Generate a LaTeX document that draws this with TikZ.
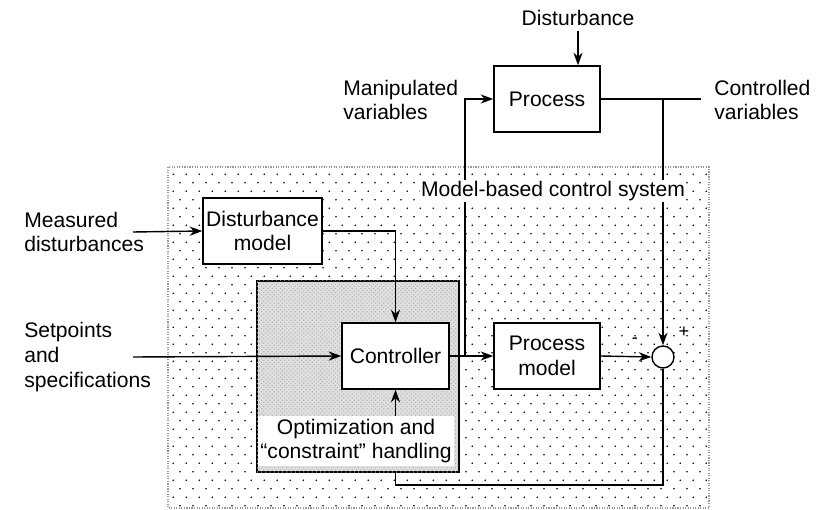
\documentclass[tikz,border=0pt]{standalone}
\usepackage{fontspec}
\setmainfont{Liberation Sans}
\usepackage{tikz}
\usetikzlibrary{arrows.meta,patterns,positioning}

% sparse staggered dots for the control system area
\pgfdeclarepatternformonly{sparse dots}{\pgfpointorigin}{\pgfqpoint{9pt}{12.4pt}}{\pgfqpoint{9pt}{12.4pt}}{%
  \pgfpathcircle{\pgfqpoint{2.25pt}{3.1pt}}{0.65pt}%
  \pgfpathcircle{\pgfqpoint{6.75pt}{9.3pt}}{0.65pt}%
  \pgfusepath{fill}}

\begin{document}
\begin{tikzpicture}[x=0.025cm, y=-0.025cm,
    every node/.style={font=\fontsize{15}{17.5}\selectfont},
    blk/.style={draw, line width=1pt, fill=white, minimum width=2.65cm, minimum height=1.65cm, align=center, inner sep=1pt},
    txt/.style={align=left, inner sep=0pt},
    sig/.style={line width=1pt, -{Stealth[length=9pt,width=6.5pt]}},
    wire/.style={line width=1pt},
    region/.style={draw=gray!80, densely dotted, line width=0.8pt, pattern=sparse dots},
    optzone/.style={draw, line width=1pt, fill=gray!25, minimum width=5.05cm, minimum height=4.775cm,
        postaction={pattern=crosshatch dots, pattern color=gray!60}},
    sumpt/.style={circle, draw, line width=1pt, fill=white, minimum size=0.55cm, inner sep=0pt},
    sign/.style={font=\fontsize{13}{15}\selectfont, inner sep=0pt}]
    \useasboundingbox (0,0) rectangle (816,510);

    % Model-based control system area
    \draw[region] (168,167) rectangle (709,508);
    \node[optzone] (optarea) at (358,376.5) {};

    % Process and its signals
    \node[blk] (proc) at (547,99) {Process};
    \node (dist) at (578,18) {Disturbance};
    \node[txt, anchor=west] (manip) at (343,100) {Manipulated\\variables};
    \node[txt, anchor=west] (ctrlv) at (714,100) {Controlled\\variables};
    \coordinate (cvend) at (701,99);

    % Blocks inside the control system
    \node[blk, minimum width=2.975cm] (dm) at (262.5,231) {Disturbance\\model};
    \node[blk, minimum width=2.675cm] (ctrl) at (395.5,356) {Controller};
    \node[blk] (pm) at (547,356) {Process\\model};
    \node[sumpt] (sum) at (663,357) {};
    \node[fill=white, align=center, inner sep=2pt] (opt) at (356,441) {Optimization and\\“constraint” handling};

    % Outside inputs
    \node[txt, anchor=west] (meas) at (24,232) {Measured\\disturbances};
    \node[txt, anchor=west] (setp) at (24,357) {Setpoints\\and\\specifications};
    \coordinate (measend) at (133,232);
    \coordinate (setpend) at (133,357);
    \coordinate (jn) at (465,357);

    % Signal lines
    \draw[sig] (dist) -- (dist |- proc.north);
    \draw[sig] (measend) -- (dm.west);
    \draw[sig] (setpend) -- (ctrl.west);
    \draw[sig] (dm.east) -| (ctrl.north);
    \draw[sig] (opt.north -| ctrl) -- (ctrl.south);
    \draw[sig] (ctrl.east) -- (pm.west);
    \draw[sig] (jn) |- (proc.west);
    \draw[wire] (proc.east) -- (cvend);
    \draw[sig] (sum |- proc.east) -- (sum.north);
    \draw[sig] (pm.east) -- (sum.west);
    \draw[wire] (sum.south) -- (sum |- 0,485) -| (optarea.south -| ctrl);

    % Signs at the comparison point
    \node[sign] (minus) at (635,341) {-};
    \node[sign] (plus) at (684,332) {+};

    % Area label
    \node[fill=white, inner sep=1pt] (mbcs) at (553,191) {Model-based control system};

\end{tikzpicture}
\end{document}
